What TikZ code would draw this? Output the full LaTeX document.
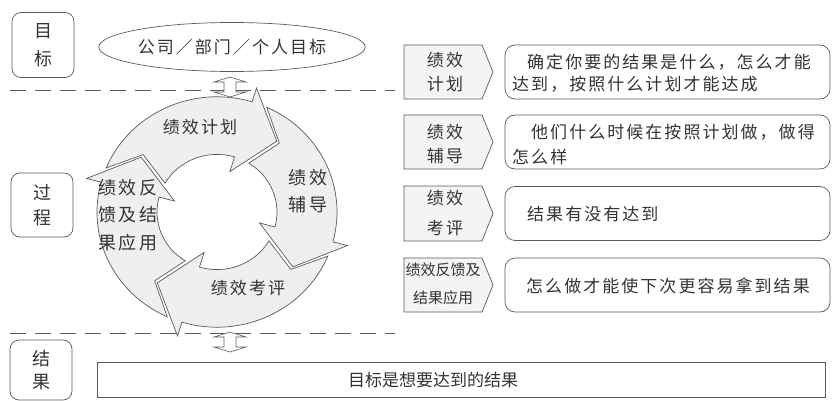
\documentclass[tikz,border=0pt]{standalone}
\usepackage{fontspec}
\usetikzlibrary{shapes.geometric}
\newfontfamily\cjk[LetterSpace=12]{Noto Sans CJK SC}
\newfontfamily\cjkn{Noto Sans CJK SC}
\definecolor{lncol}{HTML}{5A5A5A}
\definecolor{txcol}{HTML}{333333}
\definecolor{cycfill}{HTML}{EFEFEF}
\definecolor{tagfill}{HTML}{F4F4F4}
\begin{document}
\begin{tikzpicture}[x=1pt,y=-1pt,
  ln/.style={draw=lncol, line width=0.7pt},
  sidebox/.style={ln, rounded corners=9pt, minimum width=62pt, align=center, text=txcol, inner sep=0pt},
  descbox/.style={ln, rounded corners=10pt, minimum width=325pt, minimum height=54pt, inner sep=0pt},
  tagshape/.style={ln, fill=tagfill},
  txt/.style={text=txcol, inner sep=0pt, font=\cjk\fontsize{17}{17}\selectfont},
  tagtxt/.style={text=txcol, inner sep=0pt, align=center, font=\cjk\fontsize{17}{24}\selectfont},
  cyc/.style={ln, fill=cycfill, line join=miter},
  dashln/.style={draw=lncol, line width=0.8pt, dash pattern=on 16pt off 9pt},
  dbl/.style={ln, fill=white, line width=0.6pt}
]
\useasboundingbox (0,0) rectangle (832,401);

% dashed separators
\coordinate (dtl) at (10,90);  \coordinate (dtr) at (395,90);
\coordinate (dbl) at (10,333); \coordinate (dbr) at (395,333);
\draw[dashln] (dtl) -- (dtr);
\draw[dashln] (dbl) -- (dbr);

% left stage boxes
\node[sidebox, minimum height=65pt, font=\cjk\fontsize{18}{28}\selectfont] (mubiao) at (43,45) {目\\标};
\node[sidebox, minimum height=64pt, font=\cjk\fontsize{18}{25}\selectfont] (guocheng) at (42,205) {过\\程};
\node[sidebox, minimum height=60pt, font=\cjk\fontsize{18}{23}\selectfont] (jieguo) at (41,370) {结\\果};

% goal ellipse
\node[ellipse, ln, minimum width=229pt, minimum height=49pt, inner sep=0pt, txt] (goal) at (232,47) {公司／部门／个人目标};

% cycle of four arrows
\begin{scope}[shift={(217,212)}, yscale=-0.96]
\foreach \tso/\tsi/\nt/\hb/\tp in {157.5/150/141/73/51, 65.5/58/49/-15/-37, -22.5/-30/-39/-107/-129, -114.5/-122/-131/-195/-217} {
  \draw[cyc] (\tso:120) arc[start angle=\tso, end angle=\hb, radius=120]
    -- (\hb:135) -- (\tp:95) -- (\hb:44) -- (\hb:60)
    arc[start angle=\hb, end angle=\tsi, radius=60] -- (\nt:95) -- cycle;
}
\end{scope}

% double arrows
\draw[dbl, shift={(230,87)}] (0,-10) -- (16,-5) -- (6,-5) -- (6,5) -- (16,5) -- (0,10) -- (-16,5) -- (-6,5) -- (-6,-5) -- (-16,-5) -- cycle;
\draw[dbl, shift={(230,342)}] (0,-10) -- (16,-5) -- (6,-5) -- (6,5) -- (16,5) -- (0,10) -- (-16,5) -- (-6,5) -- (-6,-5) -- (-16,-5) -- cycle;

% cycle labels
\node[txt] (c1) at (200,127) {绩效计划};
\node[tagtxt, font=\cjk\fontsize{18}{27}\selectfont] (c2) at (308,191) {绩效\\辅导};
\node[tagtxt, font=\cjk\fontsize{18}{27.5}\selectfont] (c4) at (128,215) {绩效反\\馈及结\\果应用};
\node[txt] (c3) at (248,288) {绩效考评};

% right side tags
\foreach \yt/\yb [count=\i] in {45/99, 115/169, 186/241, 258/312} {
  \draw[tagshape] (404,\yt) -- (482,\yt) -- (493,{(\yt+\yb)/2}) -- (482,\yb) -- (404,\yb) -- cycle;
  \node[descbox] (d\i) at (667.5,{(\yt+\yb)/2}) {};
}
\node[tagtxt] (t1) at (445,72) {绩效\\计划};
\node[tagtxt] (t2) at (445,144) {绩效\\辅导};
\node[tagtxt, font=\cjk\fontsize{17}{30}\selectfont] (t3) at (445,213) {绩效\\考评};
\node[tagtxt, font=\cjkn\fontsize{15}{28}\selectfont] (t4) at (443,284) {绩效反馈及\\结果应用};

% descriptions
\node[txt, anchor=west] (e1a) at (527,62) {确定你要的结果是什么，怎么才能};
\node[txt, anchor=west] (e1b) at (512,84) {达到，按照什么计划才能达成};
\node[txt, anchor=west] (e2a) at (531,132) {他们什么时候在按照计划做，做得};
\node[txt, anchor=west] (e2b) at (512,157) {怎么样};
\node[txt, anchor=west] (e3) at (527,214) {结果有没有达到};
\node[txt, anchor=west] (e4) at (526,286) {怎么做才能使下次更容易拿到结果};

% bottom result bar
\draw[ln] (97,362) rectangle (825,397);
\node[txt, font=\cjkn\fontsize{17}{17}\selectfont] (res) at (433,380) {目标是想要达到的结果};
\end{tikzpicture}
\end{document}
